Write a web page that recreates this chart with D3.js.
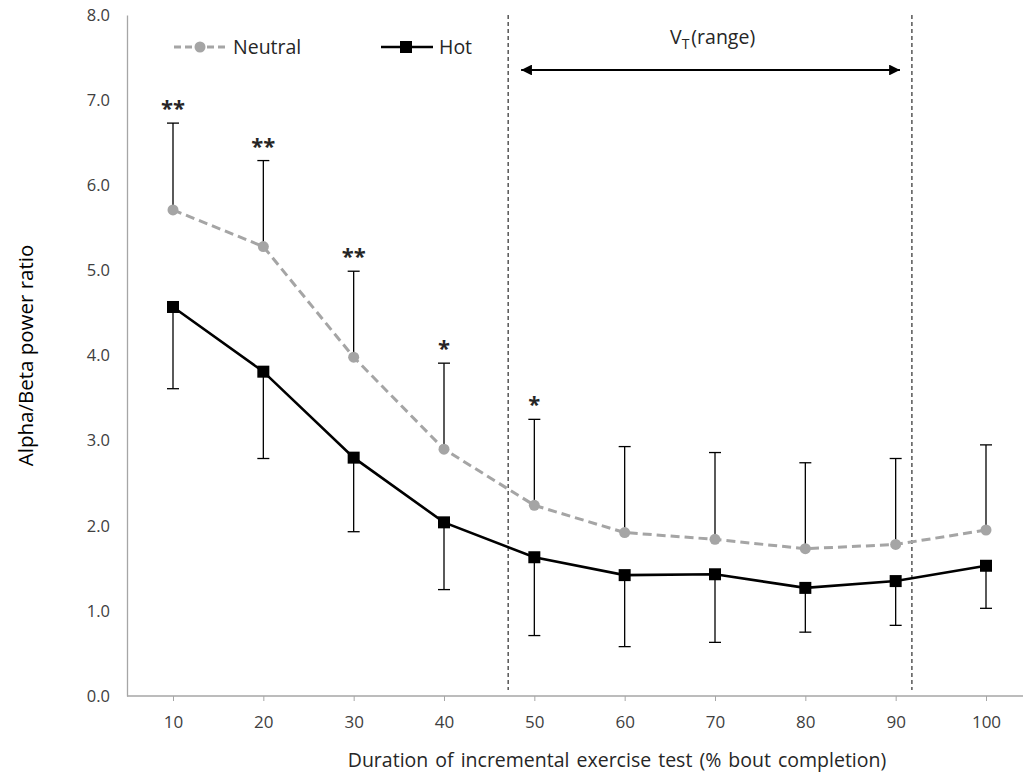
<!DOCTYPE html>
<html>
<head>
<meta charset="utf-8">
<script src="https://cdn.jsdelivr.net/npm/d3@7"></script>
<style>
    body { margin: 0; background: #fff; }
    text { font-family: "Open Sans", "DejaVu Sans", sans-serif; }
</style>
</head>
<body>
<div class="chart"></div>
<script>
// % bout completion
const durations = [10, 20, 30, 40, 50, 60, 70, 80, 90, 100];
const neutralMean = [5.71, 5.28, 3.98, 2.90, 2.24, 1.92, 1.84, 1.73, 1.78, 1.95];
const neutralUpper = [6.73, 6.29, 4.99, 3.91, 3.25, 2.93, 2.86, 2.74, 2.79, 2.95];
const hotMean = [4.57, 3.81, 2.80, 2.04, 1.63, 1.42, 1.43, 1.27, 1.35, 1.53];
const hotLower = [3.61, 2.79, 1.93, 1.25, 0.71, 0.58, 0.63, 0.75, 0.83, 1.03];
const stars = ["**", "**", "**", "*", "*", "", "", "", "", ""];
const yTicks = [0, 1, 2, 3, 4, 5, 6, 7, 8];
const vtRange = [47.1, 91.8];

const width = 1023, height = 778;
const plotLeft = 127, plotTop = 15, plotBottom = 696;

let svg = d3.select(".chart").append("svg")
    .attr("width", width)
    .attr("height", height);

let x = d3.scaleLinear().domain([10, 100]).range([173, 986]);
let y = d3.scaleLinear().domain([0, 8]).range([plotBottom, plotTop]);

// y axis (line + labels, no tick marks)
let yAxis = svg.append("g")
    .attr("transform", `translate(${plotLeft},0)`)
    .call(d3.axisLeft(y).tickValues(yTicks).tickFormat(d3.format(".1f")).tickSize(0).tickPadding(17));
yAxis.select(".domain").attr("stroke", "#a6a6a6").attr("stroke-width", 1.3);
yAxis.selectAll("text").attr("font-size", 16.5).attr("fill", "#404040");

// x axis
svg.append("line")
    .attr("x1", plotLeft).attr("x2", width)
    .attr("y1", plotBottom).attr("y2", plotBottom)
    .attr("stroke", "#a6a6a6").attr("stroke-width", 1.3);
let xAxis = svg.append("g")
    .attr("transform", `translate(0,${plotBottom})`)
    .call(d3.axisBottom(x).tickValues(durations).tickSize(5).tickPadding(15));
xAxis.select(".domain").remove();
xAxis.selectAll("line").attr("stroke", "#a6a6a6");
xAxis.selectAll("text").attr("font-size", 17).attr("fill", "#404040");

// axis titles
svg.append("text")
    .attr("transform", `translate(33,${(plotTop + plotBottom) / 2}) rotate(-90)`)
    .attr("text-anchor", "middle")
    .attr("font-size", 20.5)
    .attr("fill", "#000")
    .text("Alpha/Beta power ratio");

svg.append("text")
    .attr("x", 617).attr("y", 767)
    .attr("text-anchor", "middle")
    .attr("font-size", 19.5)
    .attr("fill", "#262626")
    .attr("word-spacing", 2)
    .text("Duration of incremental exercise test (% bout completion)");

// VT range lines
svg.selectAll(".vt-line")
    .data(vtRange)
    .join("line")
    .attr("x1", d => x(d)).attr("x2", d => x(d))
    .attr("y1", plotTop).attr("y2", plotBottom - 6)
    .attr("stroke", "#000").attr("stroke-width", 1)
    .attr("stroke-dasharray", "4,3");

let defs = svg.append("defs");
["arrowEnd", "arrowStart"].forEach((id, i) => {
    defs.append("marker")
        .attr("id", id)
        .attr("viewBox", "0 0 10 10")
        .attr("refX", i === 0 ? 10 : 0).attr("refY", 5)
        .attr("markerWidth", 6).attr("markerHeight", 6)
        .attr("markerUnits", "strokeWidth")
        .attr("orient", "auto")
        .append("path")
        .attr("d", i === 0 ? "M0,0 L10,5 L0,10 z" : "M10,0 L0,5 L10,10 z")
        .attr("fill", "#000");
});
svg.append("line")
    .attr("x1", x(vtRange[0]) + 13).attr("x2", x(vtRange[1]) - 12)
    .attr("y1", 70).attr("y2", 70)
    .attr("stroke", "#000").attr("stroke-width", 1.8)
    .attr("marker-start", "url(#arrowStart)")
    .attr("marker-end", "url(#arrowEnd)");

let vt = svg.append("text")
    .attr("x", 670).attr("y", 44)
    .attr("font-size", 19.5)
    .attr("fill", "#262626");
vt.append("tspan").text("V");
vt.append("tspan").attr("font-size", 14).attr("dy", 5).text("T");
vt.append("tspan").attr("dy", -5).attr("dx", 2).text("(range)");

// error bars
const cap = 6;
function errorBars(means, ends, cls) {
    let g = svg.append("g").classed(cls, true);
    g.selectAll(".stem").data(durations).join("line")
        .attr("x1", d => x(d)).attr("x2", d => x(d))
        .attr("y1", (_, i) => y(means[i])).attr("y2", (_, i) => y(ends[i]))
        .attr("stroke", "#000").attr("stroke-width", 1.3);
    g.selectAll(".cap").data(durations).join("line")
        .attr("x1", d => x(d) - cap).attr("x2", d => x(d) + cap)
        .attr("y1", (_, i) => y(ends[i])).attr("y2", (_, i) => y(ends[i]))
        .attr("stroke", "#000").attr("stroke-width", 1.3);
}
errorBars(neutralMean, neutralUpper, "neutral-err");
errorBars(hotMean, hotLower, "hot-err");

// lines
let line = d3.line().x(d => x(d[0])).y(d => y(d[1]));
svg.append("path")
    .datum(durations.map((d, i) => [d, neutralMean[i]]))
    .attr("d", line)
    .attr("fill", "none")
    .attr("stroke", "#a5a5a5").attr("stroke-width", 3)
    .attr("stroke-dasharray", "9,5");
svg.append("path")
    .datum(durations.map((d, i) => [d, hotMean[i]]))
    .attr("d", line)
    .attr("fill", "none")
    .attr("stroke", "#000").attr("stroke-width", 2.6);

svg.selectAll(".neutral-pt").data(durations).join("circle")
    .attr("cx", d => x(d)).attr("cy", (_, i) => y(neutralMean[i]))
    .attr("r", 5.5).attr("fill", "#a5a5a5");
svg.selectAll(".hot-pt").data(durations).join("rect")
    .attr("x", d => x(d) - 6).attr("y", (_, i) => y(hotMean[i]) - 6)
    .attr("width", 12).attr("height", 12).attr("fill", "#000");

// significance stars
svg.selectAll(".star").data(durations).join("text")
    .attr("x", d => x(d)).attr("y", (_, i) => y(neutralUpper[i]) - 7)
    .attr("text-anchor", "middle")
    .attr("font-size", 22)
    .attr("font-weight", "bold")
    .attr("fill", "#262626")
    .text((_, i) => stars[i]);

// legend
let leg = svg.append("g");
leg.append("line").attr("x1", 174).attr("x2", 228).attr("y1", 47).attr("y2", 47)
    .attr("stroke", "#a5a5a5").attr("stroke-width", 3).attr("stroke-dasharray", "7,4");
leg.append("circle").attr("cx", 200).attr("cy", 47).attr("r", 5.5).attr("fill", "#a5a5a5");
leg.append("text").attr("x", 233).attr("y", 54).attr("font-size", 19.5).attr("fill", "#262626").text("Neutral");
leg.append("line").attr("x1", 381).attr("x2", 433).attr("y1", 47).attr("y2", 47)
    .attr("stroke", "#000").attr("stroke-width", 2.6);
leg.append("rect").attr("x", 400).attr("y", 41).attr("width", 12).attr("height", 12).attr("fill", "#000");
leg.append("text").attr("x", 439).attr("y", 54).attr("font-size", 19.5).attr("fill", "#262626").text("Hot");
</script>
</body>
</html>
